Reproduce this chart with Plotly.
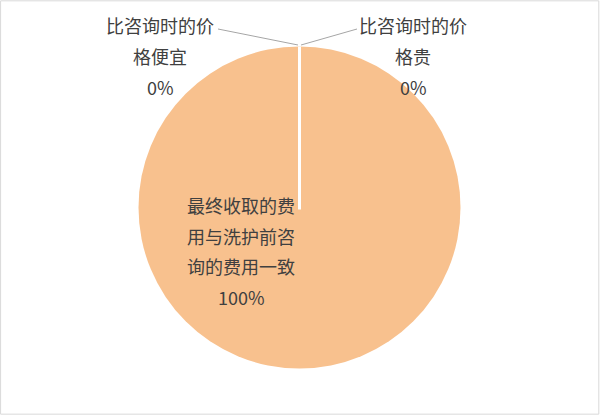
import plotly.graph_objects as go

# data
labels = ["最终收取的费用与洗护前咨询的费用一致", "比咨询时的价格便宜", "比咨询时的价格贵"]
values = [100, 0, 0]
pct_text = ["100%", "0%", "0%"]

slice_color = "#F8C18E"
text_color = "#404040"
font_family = "Microsoft YaHei, Noto Sans CJK SC, sans-serif"

W, H = 600, 415
cx, cy, r = 299.5, 207.5, 161


def px(x):
    return x / W


def py(y):
    return 1 - y / H


def wrap(s, n=6):
    return [s[i:i + n] for i in range(0, len(s), n)]


fig = go.Figure()
fig.add_trace(go.Pie(
    labels=labels,
    values=values,
    sort=False,
    direction="clockwise",
    rotation=0,
    textinfo="none",
    hoverinfo="label+percent",
    marker=dict(colors=[slice_color] * 3, line=dict(color="white", width=0)),
    showlegend=False,
    domain=dict(x=[px(cx - r), px(cx + r)], y=[py(cy + r), py(cy - r)]),
))

# white divider where the zero slices sit
fig.add_shape(type="line", xref="paper", yref="paper",
              x0=px(cx), y0=py(cy + 2), x1=px(cx), y1=py(cy - r),
              line=dict(color="white", width=3))

# leader lines for the zero slices
fig.add_shape(type="line", xref="paper", yref="paper",
              x0=px(218), y0=py(29), x1=px(298), y1=py(45),
              line=dict(color="#A6A6A6", width=1))
fig.add_shape(type="line", xref="paper", yref="paper",
              x0=px(301), y0=py(45), x1=px(357), y1=py(29),
              line=dict(color="#A6A6A6", width=1))

# label blocks: (label index, centre x, first line y, line gap)
blocks = [(0, 241, 205, 30.5), (1, 160, 25, 31), (2, 413, 25, 31)]
for idx, bx, by, gap in blocks:
    lines = wrap(labels[idx]) + [pct_text[idx]]
    for k, t in enumerate(lines):
        fig.add_annotation(x=px(bx), y=py(by + k * gap), xref="paper", yref="paper",
                           text=t, showarrow=False, xanchor="center", yanchor="middle",
                           font=dict(size=18, color=text_color, family=font_family))

# outer frame
fig.add_shape(type="rect", xref="paper", yref="paper", x0=0.001, y0=0.002, x1=0.998, y1=0.998,
              line=dict(color="#D9D9D9", width=1))

fig.update_layout(
    width=W, height=H,
    margin=dict(l=0, r=0, t=0, b=0),
    paper_bgcolor="white",
    plot_bgcolor="white",
)

fig.write_html("out.html", config={"displayModeBar": False},
               post_script="document.body.style.margin='0';")
